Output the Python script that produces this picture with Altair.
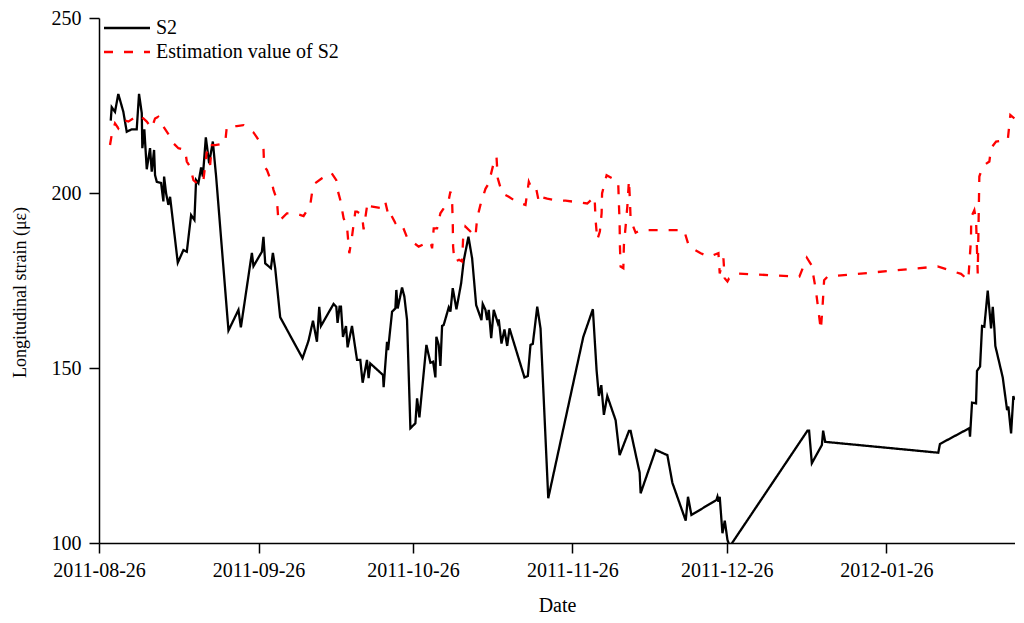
import altair as alt
import pandas as pd

START = "2011-08-26"

# S2 measured: day offset from 2011-08-26, strain value
s2_days = [2.28, 2.47, 3.11, 3.75, 4.73, 5.39, 6.36, 7.33, 7.78, 8.31, 8.42, 8.81, 9.28, 9.92,
           10.25, 10.70, 10.89, 11.23, 12.06, 12.51, 12.65, 13.04, 13.48, 13.81, 15.31, 16.40,
           17.06, 17.90, 18.54, 18.87, 19.32, 19.84, 20.18, 20.76, 21.40, 22.12, 22.76, 25.16,
           27.10, 27.57, 29.71, 30.02, 31.65, 31.96, 32.30, 33.40, 33.79, 34.24, 35.21, 39.55,
           40.72, 41.58, 42.35, 42.80, 43.13, 45.58, 46.11, 46.36, 46.75, 47.02, 47.41, 48.00,
           48.31, 49.16, 50.14, 50.78, 51.23, 52.08, 52.39, 52.72, 55.19, 55.31, 55.97, 56.17,
           56.95, 57.59, 57.78, 58.04, 58.89, 59.34, 59.86, 60.51, 61.48, 61.81, 62.26, 63.62,
           64.40, 64.92, 65.37, 65.56, 66.01, 66.34, 66.67, 66.98, 67.96, 68.29, 68.74, 69.46,
           70.37, 70.88, 71.79, 72.51, 73.29, 74.32, 74.57, 75.10, 75.43, 75.74, 76.21, 76.71,
           77.49, 77.68, 78.21, 78.79, 79.32, 79.77, 82.68, 83.33, 83.85, 84.30, 85.16, 85.80,
           87.30, 94.11, 95.97, 96.69, 97.14, 97.61, 98.11, 98.77, 100.39, 101.17, 102.98,
           103.31, 105.06, 105.25, 108.17, 110.45, 111.42, 114.01, 114.46, 115.12, 119.98,
           120.18, 120.37, 120.62, 121.15, 121.60, 122.12, 122.57, 137.68, 137.99, 138.52,
           140.47, 140.72, 141.11, 163.09, 163.42, 169.12, 169.26, 169.65, 170.43, 170.62,
           171.21, 171.60, 172.04, 172.70, 173.35, 173.68, 173.99, 174.18, 175.62, 176.46,
           176.71, 177.24, 177.68, 177.88]
s2_vals = [220.7, 224.5, 223.2, 228.3, 223.2, 217.5, 218.2, 218.2, 228.3, 222.8, 212.8, 218.2,
           206.8, 212.8, 206.1, 212.3, 205.1, 203.2, 202.9, 197.6, 204.7, 199.9, 196.6, 198.9,
           180.1, 183.7, 183.2, 193.7, 192.3, 203.7, 202.8, 207.3, 204.7, 215.9, 208.5, 214.7,
           204.7, 160.7, 166.6, 161.6, 182.9, 179.1, 183.2, 187.5, 179.9, 178.5, 182.9, 178.5,
           164.5, 152.8, 157.8, 163.5, 157.5, 167.5, 162.0, 168.3, 167.5, 162.9, 167.5, 167.5,
           158.9, 162.0, 155.9, 162.0, 152.3, 152.3, 145.8, 152.3, 147.1, 151.3, 148.0, 144.5,
           157.5, 155.1, 166.1, 167.0, 172.3, 167.0, 173.0, 170.4, 163.7, 132.8, 134.2, 141.3,
           135.9, 156.6, 151.5, 151.8, 147.3, 158.9, 156.6, 150.6, 162.0, 162.3, 167.3, 166.1,
           172.8, 166.8, 174.2, 180.7, 187.5, 181.3, 168.0, 163.7, 168.3, 166.6, 163.7, 166.6,
           158.5, 166.6, 162.9, 163.9, 157.0, 161.0, 156.3, 161.3, 147.3, 147.7, 156.6, 156.9,
           167.5, 161.3, 112.8, 158.9, 166.8, 149.4, 142.0, 145.1, 136.6, 142.0, 135.1, 125.1,
           132.0, 132.0, 120.1, 114.2, 126.6, 125.1, 117.2, 106.4, 113.2, 108.0, 112.3, 113.2,
           111.8, 113.2, 102.8, 106.4, 100.9, 99.0, 132.1, 132.1, 122.8, 128.0, 132.1, 128.9,
           125.8, 128.3, 132.8, 130.4, 140.1, 139.9, 149.2, 150.4, 162.0, 161.8, 172.1, 161.3,
           167.5, 161.3, 156.3, 147.3, 138.0, 139.0, 131.3, 142.0, 140.9]

# Estimation value of S2
est_days = [2.14, 2.47, 3.11, 3.75, 4.73, 5.70, 7.65, 8.62, 9.28, 10.25, 10.89, 11.54, 12.00,
            12.51, 13.81, 14.46, 15.43, 16.73, 17.06, 17.70, 18.35, 19.01, 19.65, 20.29, 20.95,
            21.60, 21.93, 22.57, 24.51, 24.84, 26.79, 28.07, 30.02, 30.68, 31.96, 32.10, 32.63,
            33.60, 33.91, 34.57, 34.88, 36.52, 38.13, 39.75, 41.05, 41.38, 42.02, 43.33, 45.14,
            46.11, 46.36, 46.89, 47.53, 48.19, 48.64, 49.16, 49.81, 50.14, 51.11, 51.42, 52.08,
            52.39, 52.72, 55.31, 55.64, 56.28, 56.61, 57.59, 58.23, 58.89, 59.86, 60.84, 62.12,
            63.42, 64.40, 64.73, 65.04, 65.70, 66.34, 66.98, 67.96, 68.29, 68.62, 68.74, 68.81,
            69.07, 69.96, 70.56, 70.76, 71.21, 72.18, 73.15, 73.48, 74.12, 75.10, 75.74, 76.60,
            77.24, 77.49, 78.35, 79.63, 81.13, 82.88, 83.52, 84.18, 84.96, 85.47, 85.80, 87.10,
            88.39, 90.66, 92.28, 94.88, 96.30, 96.50, 96.83, 97.33, 97.67, 97.76, 98.64, 100.89,
            101.03, 101.17, 101.23, 101.36, 101.89, 102.00, 102.33, 102.67, 102.98, 103.17,
            103.31, 104.28, 105.25, 113.68, 114.65, 116.93, 118.54, 120.37, 120.62, 121.34,
            121.60, 122.12, 122.43, 124.05, 136.10, 137.55, 138.46, 139.30, 140.27, 140.60,
            140.91, 141.58, 162.96, 167.51, 168.92, 169.44, 169.50, 170.10, 170.43, 170.76,
            171.07, 171.40, 172.04, 173.02, 173.35, 174.32, 176.59, 177.10, 177.88]
est_vals = [213.7, 216.6, 219.9, 218.5, 220.9, 220.4, 222.3, 221.3, 220.4, 218.5, 221.3, 221.8,
            220.9, 219.0, 216.1, 214.2, 212.8, 212.3, 209.0, 207.5, 203.7, 202.8, 204.2, 203.7,
            211.8, 208.0, 213.7, 213.7, 214.2, 219.0, 219.1, 219.4, 217.3, 215.9, 212.8, 207.5,
            206.6, 202.8, 200.9, 198.0, 191.8, 194.2, 194.2, 193.4, 196.6, 199.9, 202.8, 204.2,
            205.8, 203.7, 200.9, 198.0, 192.8, 190.4, 182.8, 187.5, 194.7, 194.7, 193.7, 189.6,
            196.2, 197.4, 196.2, 195.6, 197.4, 193.4, 194.2, 191.4, 191.8, 190.9, 187.3, 186.1,
            184.7, 185.6, 186.1, 184.2, 189.9, 189.9, 194.2, 195.6, 198.0, 200.4, 197.5, 191.8,
            184.7, 180.4, 180.9, 180.4, 187.1, 190.4, 189.0, 187.5, 192.8, 196.6, 201.2, 202.8,
            208.0, 210.4, 204.2, 199.9, 198.9, 197.5, 196.6, 203.2, 200.9, 201.2, 197.5, 198.9,
            198.4, 198.0, 197.8, 197.5, 197.0, 198.9, 192.3, 186.6, 189.0, 194.2, 199.9, 205.1,
            203.2, 197.0, 191.4, 184.7, 179.0, 178.5, 185.1, 190.4, 196.2, 203.7, 198.0, 192.3,
            188.7, 189.4, 189.4, 184.7, 182.8, 181.8, 182.8, 177.0, 181.3, 175.6, 174.7, 175.6,
            177.0, 176.1, 181.5, 179.4, 172.3, 160.9, 167.5, 175.1, 176.1, 179.0, 176.9, 175.1,
            186.6, 193.2, 195.1, 192.3, 177.0, 204.7, 206.1, 208.0, 209.0, 212.8, 214.7, 215.1,
            222.3, 221.3]

series_names = ["S2", "Estimation value of S2"]
y_ticks = [100, 150, 200, 250]
x_ticks = ["2011-08-26", "2011-09-26", "2011-10-26", "2011-11-26", "2011-12-26", "2012-01-26"]

base = pd.Timestamp(START)
frames = []
for name, days, vals in [(series_names[0], s2_days, s2_vals), (series_names[1], est_days, est_vals)]:
    d = pd.DataFrame({"days": days, "value": vals})
    d["date"] = (base + pd.to_timedelta(d["days"], unit="D")).dt.strftime("%Y-%m-%dT%H:%M:%S")
    d["series"] = name
    d["order"] = range(len(d))
    frames.append(d)
df = pd.concat(frames, ignore_index=True)

FONT = "Liberation Serif"

def dt(s):
    y, m, dd = [int(p) for p in s.split("-")]
    return alt.DateTime(year=y, month=m, date=dd)

chart = alt.Chart(df).mark_line(clip=True, strokeWidth=2.3).encode(
    x=alt.X("date:T",
            scale=alt.Scale(domain=[dt("2011-08-26"), dt("2012-02-20")]),
            axis=alt.Axis(title="Date", values=[dt(s) for s in x_ticks], format="%Y-%m-%d",
                          grid=False, tickSize=10, labelPadding=7, titlePadding=15,
                          titleFontSize=20, labelFlush=False)),
    y=alt.Y("value:Q",
            scale=alt.Scale(domain=[100, 250], nice=False, zero=False),
            axis=alt.Axis(title="Longitudinal strain (με)", values=y_ticks, grid=False,
                          tickSize=10, labelPadding=8, titlePadding=22, titleFontSize=18,
                          titleY=274)),
    color=alt.Color("series:N",
                    scale=alt.Scale(domain=series_names, range=["black", "#ff0000"]),
                    legend=alt.Legend(title=None, orient="none", legendX=15, legendY=-3,
                                      symbolType="M-2,0L2,0", symbolSize=529,
                                      symbolStrokeWidth=2.3, symbolFillColor="transparent",
                                      labelFontSize=20, labelFont=FONT, labelColor="black",
                                      labelLimit=0, labelOffset=16, rowPadding=1, padding=0)),
    strokeDash=alt.StrokeDash("series:N",
                              scale=alt.Scale(domain=series_names, range=[[1, 0], [9, 11]]),
                              legend=None),
    order="order:Q",
    detail="series:N",
).properties(
    width=916, height=525,
    autosize=alt.AutoSizeParams(type="none"),
    padding={"left": 91, "top": 10, "right": 0, "bottom": 78},
).configure_view(stroke=None).configure_axis(
    domainColor="black", domainWidth=1.5, tickColor="black", tickWidth=1.5,
    labelFont=FONT, titleFont=FONT, labelFontSize=20,
    labelColor="black", titleColor="black", titleFontWeight="normal",
)

chart.save("out.html", embed_options={"renderer": "svg", "actions": False})
